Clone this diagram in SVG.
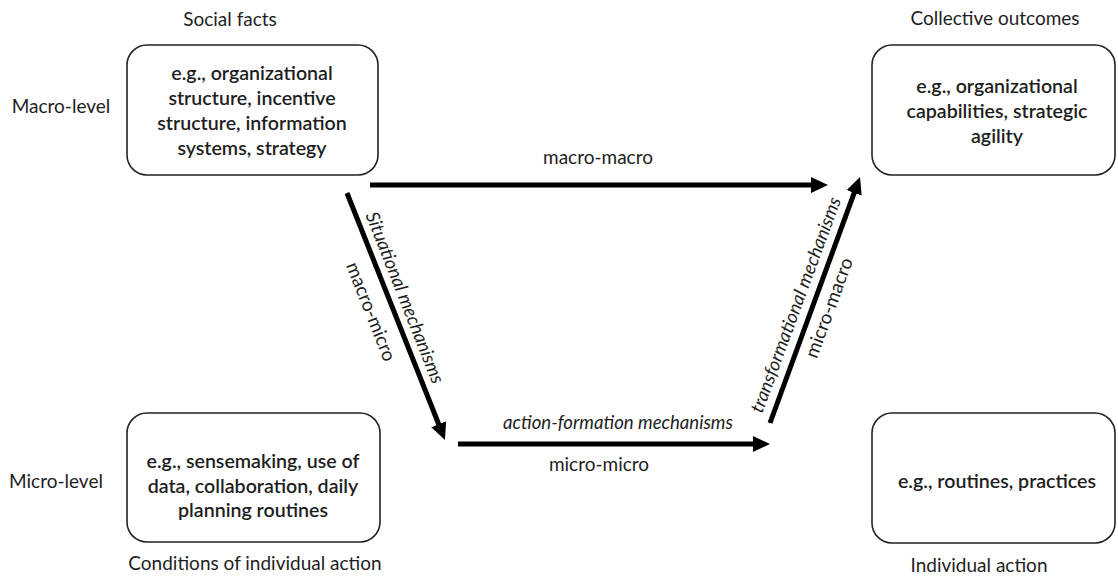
<svg xmlns="http://www.w3.org/2000/svg" width="1118" height="581" viewBox="0 0 1118 581">
<style>
text{font-family:Lato,"Open Sans","Liberation Sans",sans-serif;fill:#1e1e1e;}
.lbl{font-size:19px;}
.box{font-size:19.6px;font-weight:600;text-anchor:middle;}
.it{font-size:18.6px;font-style:italic;}
.mid{text-anchor:middle;}
.node rect{fill:#fff;stroke:#222;stroke-width:1.6;}
.conn line{stroke:#000;stroke-width:5;marker-end:url(#ah);}
</style>
<defs>
<marker id="ah" markerUnits="userSpaceOnUse" markerWidth="17" markerHeight="16" refX="3" refY="8" orient="auto">
<path d="M0,0 L17,8 L0,16 Z" fill="#000"/>
</marker>
</defs>
<rect width="1118" height="581" fill="#fff"/>
<g id="labels">
<text class="lbl mid" x="230" y="26">Social facts</text>
<text class="lbl mid" x="995" y="25">Collective outcomes</text>
<text class="lbl mid" x="61" y="113">Macro-level</text>
<text class="lbl mid" x="56" y="488">Micro-level</text>
<text class="lbl mid" x="255" y="570">Conditions of individual action</text>
<text class="lbl mid" x="979" y="572">Individual action</text>
</g>
<g id="node-social-facts" class="node">
<rect x="127" y="45" width="251" height="130" rx="20"/>
<text class="box" x="252" y="80">e.g., organizational</text>
<text class="box" x="252" y="105">structure, incentive</text>
<text class="box" x="252" y="130">structure, information</text>
<text class="box" x="252" y="155">systems, strategy</text>
</g>
<g id="node-collective-outcomes" class="node">
<rect x="872" y="45" width="243" height="130" rx="20"/>
<text class="box" x="997" y="93">e.g., organizational</text>
<text class="box" x="997" y="118">capabilities, strategic</text>
<text class="box" x="997" y="143">agility</text>
</g>
<g id="node-conditions" class="node">
<rect x="127" y="413" width="253" height="129" rx="20"/>
<text class="box" x="253" y="468">e.g., sensemaking, use of</text>
<text class="box" x="253" y="493">data, collaboration, daily</text>
<text class="box" x="253" y="517">planning routines</text>
</g>
<g id="node-individual-action" class="node">
<rect x="872" y="413" width="243" height="130" rx="20"/>
<text class="box" x="997" y="488">e.g., routines, practices</text>
</g>
<g id="connectors" class="conn">
<line x1="370" y1="185" x2="814" y2="185"/>
<line x1="347" y1="193" x2="439.8" y2="427"/>
<line x1="458" y1="444" x2="756" y2="444"/>
<line x1="770" y1="423" x2="855.2" y2="190.1"/>
<text class="lbl mid" x="598" y="164">macro-macro</text>
<text class="lbl mid" x="599" y="471">micro-micro</text>
<text class="it mid" x="618" y="429">action-formation mechanisms</text>
<text class="it mid" transform="translate(399,300) rotate(68.4)">Situational mechanisms</text>
<text class="lbl mid" transform="translate(365,314) rotate(68.4)">macro-micro</text>
<text class="it mid" transform="translate(801.7,307) rotate(-69.7)">transformational mechanisms</text>
<text class="lbl mid" transform="translate(835,310) rotate(-69.7)">micro-macro</text>
</g>
</svg>
